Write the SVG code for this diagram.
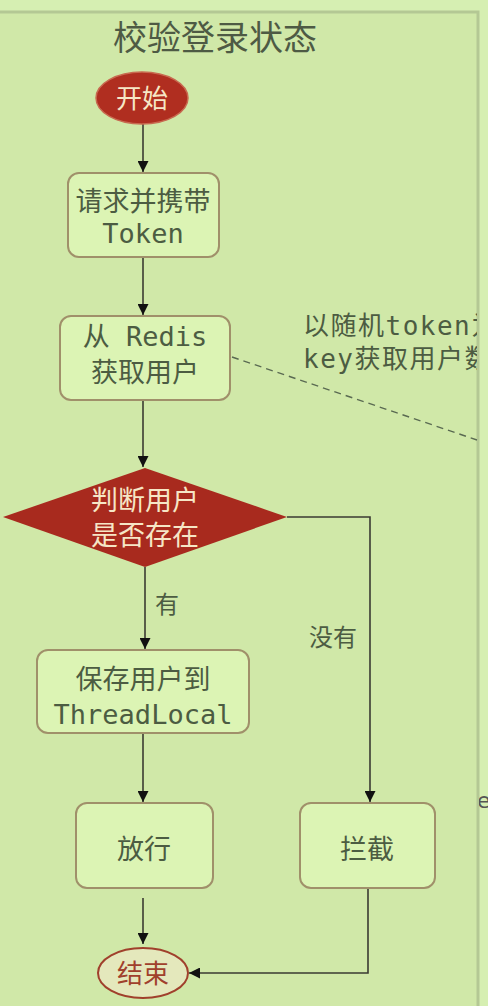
<svg xmlns="http://www.w3.org/2000/svg" width="488" height="1006" viewBox="0 0 488 1006">
<defs>
<style>
.box{fill:#dcf4b4;stroke:#a0906a;stroke-width:2}
.t{font-family:"DejaVu Sans Mono","Noto Sans CJK SC",monospace;font-size:27px;fill:#4c5c42;text-anchor:middle}
.tw{font-family:"DejaVu Sans Mono","Noto Sans CJK SC",monospace;font-size:26px;fill:#f6e6c6;text-anchor:middle}
.lbl{font-family:"DejaVu Sans Mono","Noto Sans CJK SC",monospace;font-size:24px;fill:#4c5c42}
.ln{fill:none;stroke:#3a3a32;stroke-width:1.6}
</style>
<marker id="ah" viewBox="0 0 10 10" refX="10" refY="5" markerWidth="11" markerHeight="11" markerUnits="userSpaceOnUse" orient="auto">
<path d="M0,0 L10,5 L0,10 Z" fill="#111"/>
</marker>
<clipPath id="pc"><rect x="0" y="0" width="477" height="1006"/></clipPath>
<clipPath id="oc"><rect x="479" y="0" width="9" height="1006"/></clipPath>
</defs>
<rect width="488" height="1006" fill="#d6efb2"/>
<rect x="-10" y="12" width="488" height="1010" fill="#d0e8a8" stroke="#b4c894" stroke-width="3"/>
<text x="477" y="808" font-family="DejaVu Sans" font-size="22" fill="#555" clip-path="url(#oc)">e</text>
<text x="215" y="50" font-family="Noto Sans CJK SC,sans-serif" font-size="34" fill="#4e5a44" text-anchor="middle">校验登录状态</text>
<g id="note" clip-path="url(#pc)">
<text x="303" y="335" class="lbl" style="font-size:26px;letter-spacing:1.5px">以随机token为</text>
<text x="303" y="368" class="lbl" style="font-size:26px;letter-spacing:1.5px">key获取用户数</text>
</g>
<g id="connectors">
<line class="ln" x1="143" y1="124" x2="143" y2="172" marker-end="url(#ah)"/>
<line class="ln" x1="143" y1="257" x2="143" y2="315" marker-end="url(#ah)"/>
<line class="ln" x1="143" y1="400" x2="143" y2="467" marker-end="url(#ah)"/>
<line class="ln" x1="145" y1="567" x2="145" y2="649" marker-end="url(#ah)"/>
<polyline class="ln" points="287,517 370,517 370,802" marker-end="url(#ah)"/>
<line class="ln" x1="143" y1="733" x2="143" y2="802" marker-end="url(#ah)"/>
<line class="ln" x1="143" y1="898" x2="143" y2="944" marker-end="url(#ah)"/>
<polyline class="ln" points="368,888 368,973 189,973" marker-end="url(#ah)"/>
<line x1="232" y1="357" x2="477" y2="440" stroke="#5a6a52" stroke-width="1.4" stroke-dasharray="7,5"/>
<text x="155" y="613" class="lbl">有</text>
<text x="309" y="646" class="lbl">没有</text>
</g>
<g id="start">
<ellipse cx="142" cy="98" rx="46" ry="26" fill="#b02e20" stroke="#c86a50" stroke-width="1.5"/>
<text x="142" y="108" class="tw">开始</text>
</g>
<g id="request">
<rect class="box" x="68" y="173" width="151" height="84" rx="11"/>
<text x="143" y="211" class="t">请求并携带</text>
<text x="143" y="243" class="t">Token</text>
</g>
<g id="redis">
<rect class="box" x="60" y="316" width="170" height="84" rx="11"/>
<text x="145" y="346" class="t">从 Redis</text>
<text x="145" y="382" class="t">获取用户</text>
</g>
<g id="judge">
<polygon points="3,517 145,468 287,517 145,567" fill="#a82a1e"/>
<text x="145" y="510" class="tw" style="font-size:27px">判断用户</text>
<text x="145" y="545" class="tw" style="font-size:27px">是否存在</text>
</g>
<g id="save">
<rect class="box" x="37" y="650" width="212" height="83" rx="11"/>
<text x="143" y="689" class="t">保存用户到</text>
<text x="143" y="724" class="t">ThreadLocal</text>
</g>
<g id="pass">
<rect class="box" x="76" y="803" width="137" height="85" rx="11"/>
<text x="144" y="859" class="t">放行</text>
</g>
<g id="block">
<rect class="box" x="300" y="803" width="135" height="85" rx="11"/>
<text x="367" y="859" class="t">拦截</text>
</g>
<g id="end">
<ellipse cx="143" cy="973" rx="45" ry="25" fill="#e4e8bc" stroke="#a0402c" stroke-width="2"/>
<text x="143" y="983" class="t" style="fill:#a0402c;font-size:26px">结束</text>
</g>
</svg>
